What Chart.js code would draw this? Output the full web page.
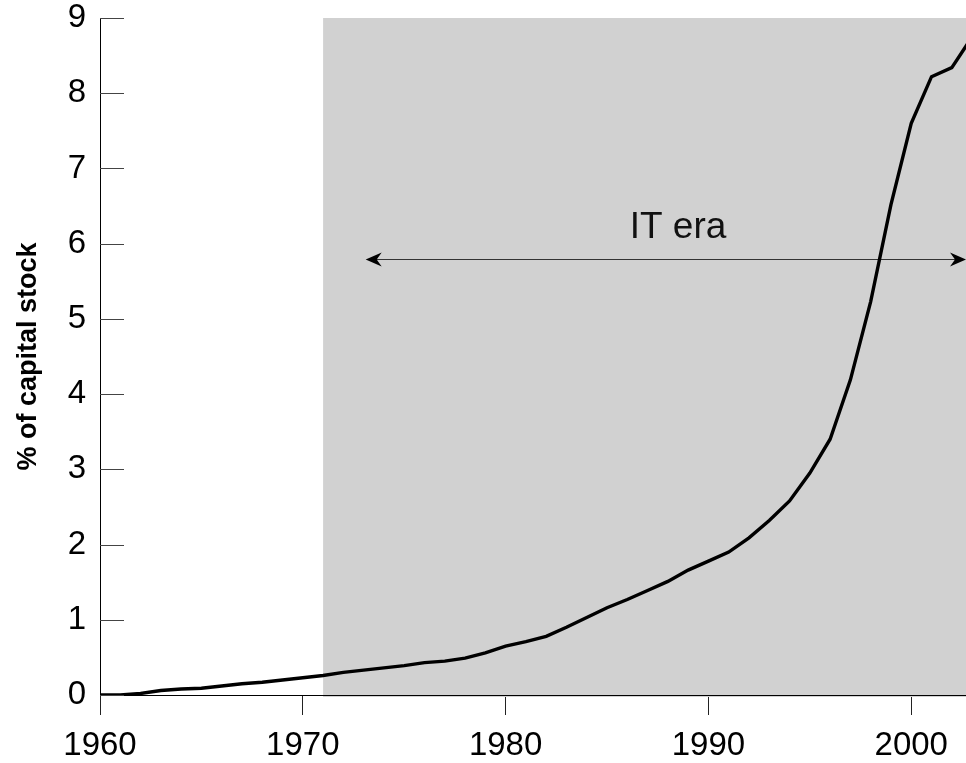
<!DOCTYPE html>
<html>
<head>
<meta charset="utf-8">
<script src="https://cdn.jsdelivr.net/npm/chart.js@4/dist/chart.umd.min.js"></script>
<style>
    html, body { margin: 0; padding: 0; background: #fff; overflow: hidden; }
    #wrap { width: 966px; height: 763px; }
</style>
</head>
<body>
<div id="wrap"><canvas id="chart" width="966" height="763"></canvas></div>
<script>
const YEARS = [
    1960, 1961, 1962, 1963, 1964, 1965, 1966, 1967, 1968, 1969,
    1970, 1971, 1972, 1973, 1974, 1975, 1976, 1977, 1978, 1979,
    1980, 1981, 1982, 1983, 1984, 1985, 1986, 1987, 1988, 1989,
    1990, 1991, 1992, 1993, 1994, 1995, 1996, 1997, 1998, 1999,
    2000, 2001, 2002, 2003,
];
const SHARE = [
    0.00, 0.00, 0.02, 0.06, 0.08, 0.09, 0.12, 0.15, 0.17, 0.20,
    0.23, 0.26, 0.30, 0.33, 0.36, 0.39, 0.43, 0.45, 0.49, 0.56,
    0.65, 0.71, 0.78, 0.90, 1.03, 1.16, 1.27, 1.39, 1.51, 1.66,
    1.78, 1.90, 2.09, 2.32, 2.58, 2.95, 3.40, 4.19, 5.23, 6.52,
    7.60, 8.22, 8.34, 8.75,
];
const X_TICKS = [1960, 1970, 1980, 1990, 2000];
const Y_TICKS = [0, 1, 2, 3, 4, 5, 6, 7, 8, 9];

const ERA_START = 1971;      // shaded band start
const ARROW_START = 1973.1;  // left arrow tip
const ARROW_LEVEL = 5.8;
const ERA_LABEL = 'IT era';
const ERA_LABEL_AT = { x: 1988.5, y: 6.08 };

const FONT = 'Arial, "Liberation Sans", sans-serif';

const eraPlugin = {
    id: 'era',
    beforeDatasetsDraw(chart) {
        const { ctx, chartArea, scales: { x, y } } = chart;
        ctx.save();

        // shaded band
        const left = x.getPixelForValue(ERA_START);
        ctx.fillStyle = '#d1d1d1';
        ctx.fillRect(left, chartArea.top, chartArea.right - left, chartArea.bottom - chartArea.top + 2);

        // axis line back on top of the band
        const by = Math.round(chartArea.bottom) + 0.5;
        ctx.strokeStyle = '#000';
        ctx.lineWidth = 1;
        ctx.beginPath();
        ctx.moveTo(chartArea.left, by);
        ctx.lineTo(chartArea.right, by);
        ctx.stroke();

        // double arrow
        const ay = Math.round(y.getPixelForValue(ARROW_LEVEL)) + 0.5;
        const ax1 = x.getPixelForValue(ARROW_START);
        const ax2 = chartArea.right;
        ctx.strokeStyle = '#333';
        ctx.lineWidth = 1.2;
        ctx.beginPath();
        ctx.moveTo(ax1 + 8, ay);
        ctx.lineTo(ax2 - 8, ay);
        ctx.stroke();

        ctx.fillStyle = '#000';
        const head = (tip, dir) => {
            ctx.beginPath();
            ctx.moveTo(tip, ay);
            ctx.lineTo(tip + dir * 16, ay - 7);
            ctx.lineTo(tip + dir * 11, ay);
            ctx.lineTo(tip + dir * 16, ay + 7);
            ctx.closePath();
            ctx.fill();
        };
        head(ax1, 1);
        head(ax2, -1);

        // label
        ctx.fillStyle = '#111';
        ctx.font = '37px ' + FONT;
        ctx.textAlign = 'center';
        ctx.textBaseline = 'alphabetic';
        ctx.fillText(ERA_LABEL, x.getPixelForValue(ERA_LABEL_AT.x), y.getPixelForValue(ERA_LABEL_AT.y));
        ctx.restore();
    },
    afterDraw(chart) {
        // y ticks point inward
        const { ctx, chartArea, scales: { y } } = chart;
        ctx.save();
        ctx.strokeStyle = '#444';
        ctx.lineWidth = 1;
        for (const v of Y_TICKS) {
            const py = Math.round(y.getPixelForValue(v)) + 0.5;
            ctx.beginPath();
            ctx.moveTo(chartArea.left, py);
            ctx.lineTo(chartArea.left + 24, py);
            ctx.stroke();
        }
        ctx.restore();
    },
};

new Chart(document.getElementById('chart'), {
    type: 'line',
    data: {
        datasets: [{
            data: YEARS.map((yr, i) => ({ x: yr, y: SHARE[i] })),
            borderColor: '#000',
            borderWidth: 3.4,
            pointRadius: 0,
            tension: 0,
            fill: false,
        }],
    },
    options: {
        responsive: false,
        animation: false,
        devicePixelRatio: 1,
        layout: { padding: { top: 18, right: 0, left: 0, bottom: 0 } },
        plugins: { legend: { display: false }, tooltip: { enabled: false } },
        scales: {
            x: {
                type: 'linear',
                min: 1960,
                max: 2002.7,
                afterBuildTicks: (s) => { s.ticks = X_TICKS.map((v) => ({ value: v })); },
                afterFit: (s) => { s.height = 68; s.paddingLeft = 0; s.paddingRight = 0; },
                ticks: {
                    includeBounds: false,
                    color: '#000',
                    font: { family: FONT, size: 33 },
                    padding: 11,
                    maxRotation: 0,
                    callback: (v) => String(v),
                },
                grid: { drawOnChartArea: false, drawTicks: true, tickLength: 20, color: '#222', lineWidth: 1 },
                border: { color: '#000', width: 1 },
            },
            y: {
                min: 0,
                max: 9,
                afterBuildTicks: (s) => { s.ticks = Y_TICKS.map((v) => ({ value: v })); },
                afterFit: (s) => { s.width = 100; s.paddingTop = 0; s.paddingBottom = 0; },
                ticks: {
                    color: '#000',
                    font: { family: FONT, size: 33 },
                    padding: 14,
                },
                grid: { display: false, drawTicks: false },
                border: { color: '#000', width: 1 },
                title: {
                    display: true,
                    text: '% of capital stock',
                    color: '#000',
                    font: { family: FONT, size: 27, weight: 'bold' },
                    padding: { top: 12, bottom: 0 },
                },
            },
        },
    },
    plugins: [eraPlugin],
});
</script>
</body>
</html>
